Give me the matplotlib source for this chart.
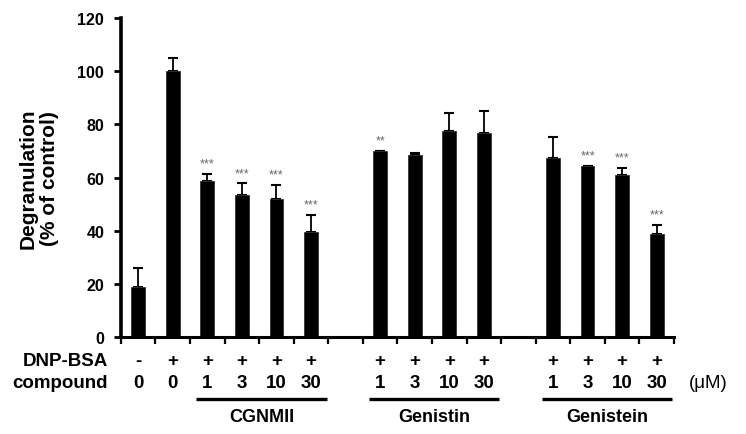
import numpy as np
import matplotlib.pyplot as plt
from matplotlib.transforms import blended_transform_factory

plt.rcParams['font.family'] = ['Liberation Sans', 'DejaVu Sans']

# bar slots (gaps at 6 and 11 separate the compound groups)
slots = [0, 1, 2, 3, 4, 5, 7, 8, 9, 10, 12, 13, 14, 15]
means = [19.0, 100.0, 58.7, 53.3, 51.8, 39.4, 69.9, 68.5, 77.4, 76.9, 67.3, 64.5, 60.8, 38.8]
errs = [7.0, 5.0, 2.6, 4.5, 5.5, 6.4, 0.0, 0.8, 6.9, 8.0, 8.1, 0.0, 2.9, 3.5]
stars = ['', '', '***', '***', '***', '***', '**', '', '', '', '', '***', '***', '***']
dnp_bsa = ['-', '+', '+', '+', '+', '+', '+', '+', '+', '+', '+', '+', '+', '+']
dose = ['0', '0', '1', '3', '10', '30', '1', '3', '10', '30', '1', '3', '10', '30']
groups = ['CGNMII', 'Genistin', 'Genistein']
group_idx = [(2, 5), (6, 9), (10, 13)]

fig = plt.figure(figsize=(7.46, 4.35), dpi=100)
ax = fig.add_axes([0.162, 0.223, 0.7415, 0.733])

ax.bar(slots, means, width=0.4, color='black', edgecolor='#333333', linewidth=0.6, zorder=2)
ax.errorbar(slots, means, yerr=[np.zeros(len(errs)), errs], fmt='none',
            ecolor='black', elinewidth=1.3, capsize=3.5, capthick=1.5, zorder=1)

for x, m, e, s in zip(slots, means, errs, stars):
    if s:
        ax.annotate(s, (x, m + e), xytext=(0, 7.5), textcoords='offset points',
                    ha='center', va='center', fontsize=9, color='#666666')

ax.set_xlim(-0.5, 15.5)
ax.set_ylim(0, 120)
ax.set_yticks(range(0, 121, 20))
ax.set_xticks(np.arange(-0.5, 15.6, 1))
ax.set_xticklabels([])
ax.tick_params(axis='y', length=5, width=2, pad=7, labelsize=11.5)
ax.tick_params(axis='x', length=5, width=1.6)
for lab in ax.get_yticklabels():
    lab.set_fontweight('bold')
ax.spines['top'].set_visible(False)
ax.spines['right'].set_visible(False)
ax.spines['left'].set_linewidth(2.6)
ax.spines['bottom'].set_linewidth(2.2)

ax.set_ylabel('Degranulation\n(% of control)', fontsize=15, fontweight='bold',
              linespacing=1.15)
ax.yaxis.set_label_coords(-0.112, 0.5)

# condition rows under the axis
tr = blended_transform_factory(ax.transData, fig.transFigure)
fig.text(108 / 746, 0.170, 'DNP-BSA', ha='right', va='center', fontsize=13.5, fontweight='bold')
fig.text(108 / 746, 0.1195, 'compound', ha='right', va='center', fontsize=13.5, fontweight='bold')
for x, p, d in zip(slots, dnp_bsa, dose):
    ax.text(x, 0.170, p, transform=tr, ha='center', va='center', fontsize=13.5, fontweight='bold')
    ax.text(x, 0.1195, d, transform=tr, ha='center', va='center', fontsize=13.5, fontweight='bold')
fig.text(0.949, 0.1195, '(\u03bcM)', ha='center', va='center', fontsize=13.5)

for name, (i0, i1) in zip(groups, group_idx):
    x0, x1 = slots[i0] - 0.32, slots[i1] + 0.45
    ax.plot([x0, x1], [0.080, 0.080], transform=tr, color='black', lw=2.4,
            clip_on=False, solid_capstyle='butt')
    ax.text((x0 + x1) / 2, 0.041, name, transform=tr, ha='center', va='center',
            fontsize=13, fontweight='bold')

fig.savefig('out.png', dpi=100)
